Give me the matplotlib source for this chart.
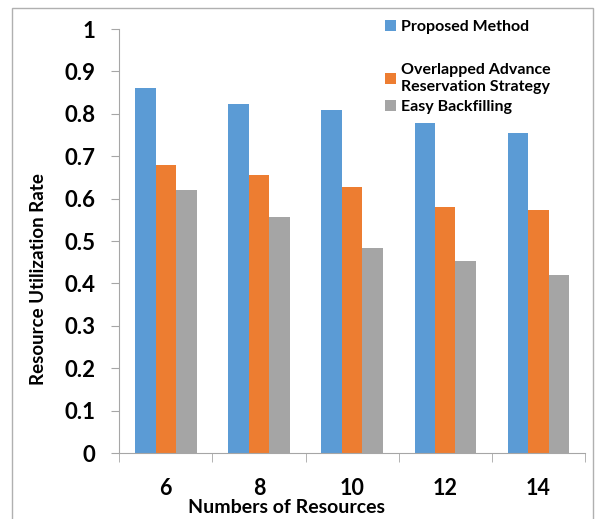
import numpy as np
import matplotlib
matplotlib.use("Agg")
from matplotlib import pyplot as plt
from matplotlib.patches import Rectangle

plt.rcParams['font.family'] = ['Lato', 'DejaVu Sans']

resources = ["6", "8", "10", "12", "14"]
proposed = [0.861, 0.823, 0.809, 0.778, 0.755]
overlapped = [0.679, 0.656, 0.627, 0.580, 0.573]
easy_backfill = [0.621, 0.557, 0.483, 0.453, 0.420]

series_names = ["Proposed Method", "Overlapped Advance\nReservation Strategy", "Easy Backfilling"]
colors = ["#5B9BD5", "#ED7D31", "#A5A5A5"]

fig = plt.figure(figsize=(5.96, 5.19), dpi=100)
ax = fig.add_axes([0.2, 0.127, 0.7815, 0.817])

x = np.arange(len(resources))
w = 0.22
bars = []
for i, vals in enumerate([proposed, overlapped, easy_backfill]):
    b = ax.bar(x + (i - 1) * w, vals, w, color=colors[i], label=series_names[i])
    bars.append(b)

ax.set_xlim(-0.5, len(resources) - 0.5)
ax.set_ylim(0, 1)
ax.set_yticks(np.arange(0, 1.01, 0.1))
ax.set_yticklabels(["0", "0.1", "0.2", "0.3", "0.4", "0.5", "0.6", "0.7", "0.8", "0.9", "1"])
ax.set_xticks(x)
ax.set_xticklabels(resources)
ax.set_xticks(np.arange(-0.5, len(resources)), minor=True)

spine_col = "#A6A6A6"
for s in ["top", "right"]:
    ax.spines[s].set_visible(False)
for s in ["left", "bottom"]:
    ax.spines[s].set_color(spine_col)
ax.tick_params(axis="y", length=6, color=spine_col, labelsize=16, pad=11)
ax.tick_params(axis="x", which="major", length=0, labelsize=15.5, pad=18)
ax.tick_params(axis="x", which="minor", length=6.5, color=spine_col)
for lbl in ax.get_xticklabels() + ax.get_yticklabels():
    lbl.set_fontweight("bold")

ax.set_xlabel("Numbers of Resources", fontsize=14, fontweight="bold")
ax.xaxis.set_label_coords(0.36, -0.108)
ax.set_ylabel("Resource Utilization Rate", fontsize=13.5, fontweight="bold")
ax.yaxis.set_label_coords(-0.155, 0.41)

# legend split in two parts to get Excel-like uneven spacing
leg1 = ax.legend(handles=[bars[0]], loc="upper left", bbox_to_anchor=(0.54, 1.056),
                 frameon=False, handlelength=0.7, handleheight=0.7,
                 handletextpad=0.3, prop={"weight": "bold", "size": 11.5})
ax.add_artist(leg1)
leg2 = ax.legend(handles=[bars[1], bars[2]], loc="upper left", bbox_to_anchor=(0.54, 0.953),
                 frameon=False, handlelength=0.7, handleheight=0.7,
                 handletextpad=0.3, labelspacing=0.4, prop={"weight": "bold", "size": 11.5})

fig.add_artist(Rectangle((12 / 596, -0.05), (593 - 12) / 596, 1 - 8 / 519 + 0.05,
                         transform=fig.transFigure, fill=False, edgecolor="#B0B0B0", lw=1))

fig.savefig("out.png", dpi=100)
